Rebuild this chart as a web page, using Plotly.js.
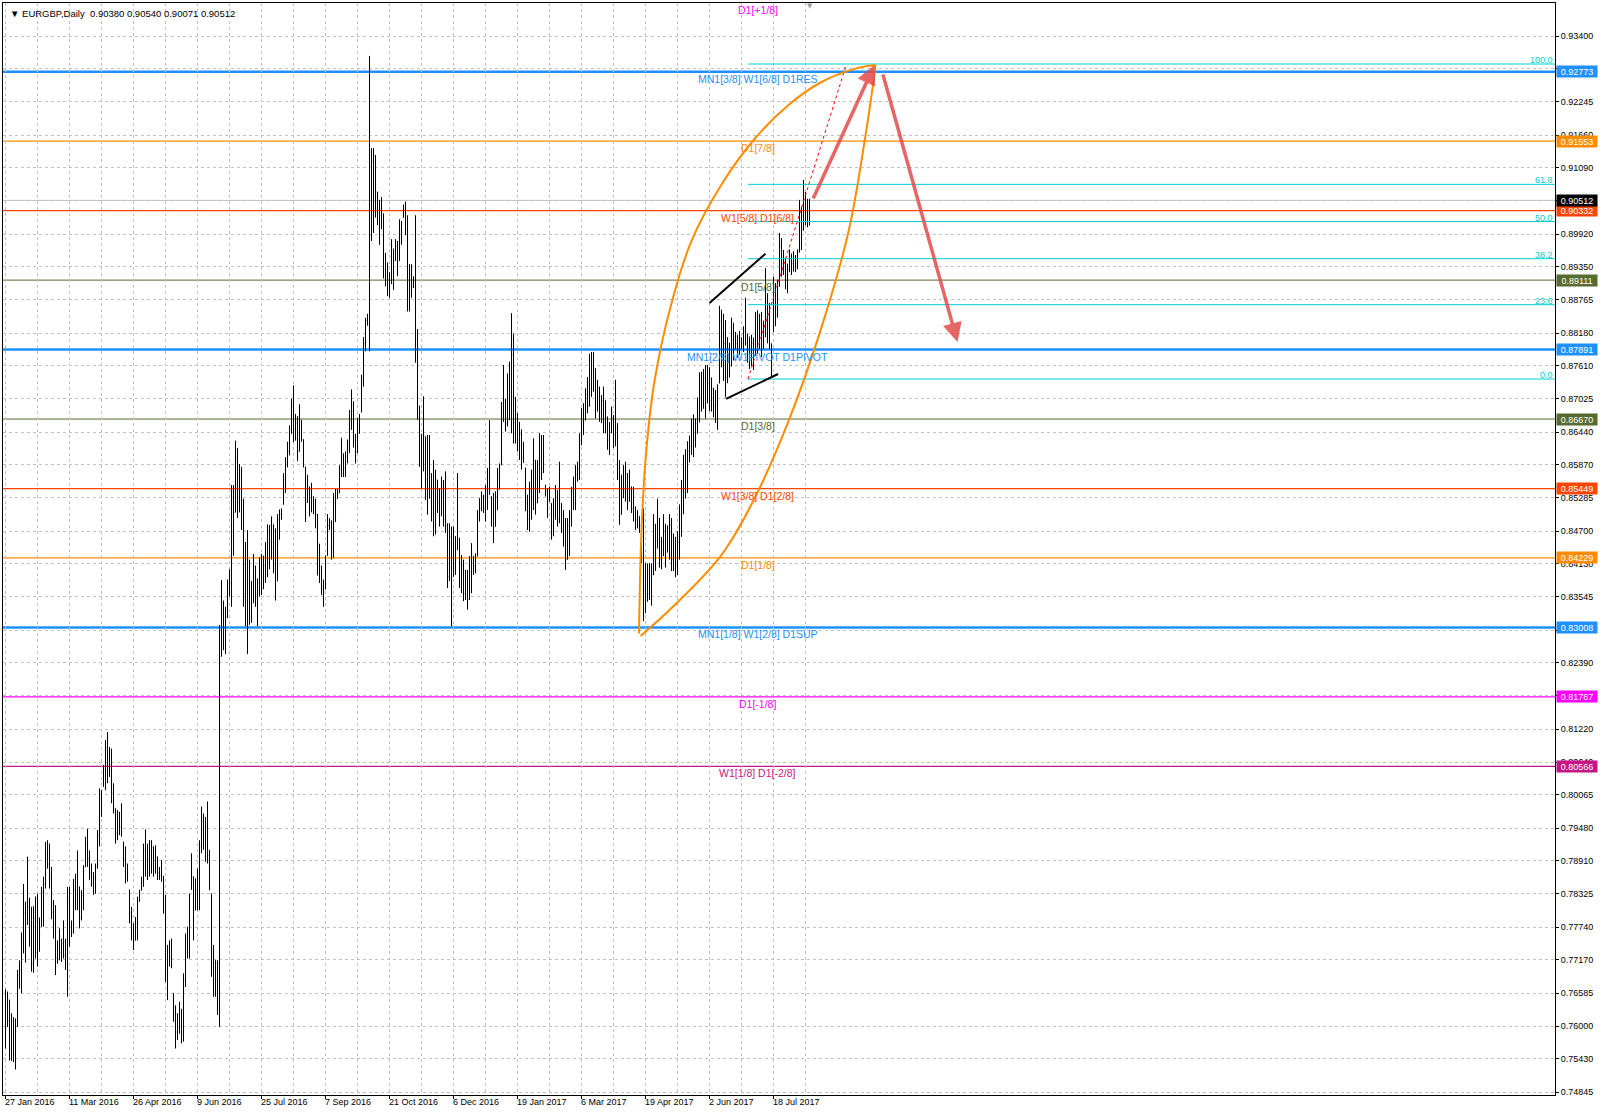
<!DOCTYPE html>
<html>
<head>
<meta charset="utf-8">
<script src="https://cdn.plot.ly/plotly-3.0.1.min.js"></script>
<style>
  html, body { margin: 0; padding: 0; background: #fff; }
  #chart { width: 1600px; height: 1118px; }
</style>
</head>
<body>
<div id="chart"></div>
<script>
// EURGBP daily bars, prices in pips (x10000), bar 0 = 27 Jan 2016
const barOpen = [
  7640,7600,7610,7560,7575,7550,7600,7690,7700,7755,
  7800,7780,7810,7750,7710,7790,7730,7790,7776,7835,
  7850,7900,7885,7860,7800,7780,7720,7740,7730,7745,
  7725,7710,7820,7770,7765,7840,7820,7845,7790,7830,
  7880,7920,7895,7870,7850,7860,7880,7935,8000,8021,
  8050,8090,8050,8070,8010,7983,7940,7960,7950,7924,
  7895,7860,7840,7800,7770,7751,7780,7820,7839,7855,
  7910,7880,7900,7880,7915,7875,7898,7870,7865,7864,
  7815,7700,7735,7720,7658,7620,7590,7610,7600,7590,
  7680,7750,7730,7840,7863,7804,7840,7820,7915,7960,
  7930,7950,7900,7833,7700,7716,7680,7640,8250,8330,
  8300,8320,8370,8380,8540,8503,8600,8520,8560,8490,
  8360,8420,8306,8382,8344,8409,8360,8380,8400,8370,
  8410,8440,8420,8470,8440,8410,8460,8490,8500,8517,
  8560,8590,8610,8650,8690,8650,8660,8610,8665,8631,
  8583,8520,8548,8510,8531,8510,8500,8410,8409,8370,
  8368,8427,8480,8485,8440,8520,8527,8537,8580,8600,
  8580,8600,8620,8670,8680,8630,8610,8650,8679,8730,
  8800,8840,8835,8990,9120,9050,9066,9020,9001,9028,
  8930,8920,8900,8910,8966,8945,8970,8945,9000,9021,
  9035,9000,8880,8920,8900,8910,8790,8690,8610,8580,
  8636,8560,8620,8550,8510,8480,8560,8520,8500,8550,
  8490,8480,8390,8460,8390,8460,8437,8458,8390,8410,
  8360,8390,8350,8410,8426,8410,8426,8500,8510,8530,
  8510,8540,8570,8531,8500,8478,8530,8570,8586,8680,
  8700,8660,8730,8690,8780,8660,8677,8630,8640,8600,
  8581,8520,8490,8540,8510,8595,8520,8580,8620,8580,
  8551,8540,8522,8519,8470,8510,8540,8490,8519,8500,
  8460,8420,8480,8500,8540,8520,8570,8580,8630,8670,
  8665,8710,8690,8770,8720,8756,8690,8720,8680,8700,
  8660,8671,8630,8650,8670,8640,8650,8580,8500,8550,
  8540,8570,8522,8548,8510,8513,8490,8496,8480,8460,
  8370,8390,8360,8400,8393,8480,8440,8493,8420,8450,
  8470,8433,8460,8480,8420,8440,8410,8450,8500,8540,
  8590,8560,8610,8620,8650,8630,8660,8690,8730,8700,
  8740,8695,8730,8700,8720,8690,8700,8730,8840,8780,
  8800,8740,8790,8760,8820,8790,8800,8790,8810,8800,
  8820,8800,8780,8770,8800,8780,8840,8800,8840,8810,
  8820,8860,8850,8790,8820,8900,8850,8900,8970,8940,
  8930,8910,8930,8950,8940,8950,8940,8960,9030,9000,
  9060,9030,9038
];
const barHigh = [
  7665,7661,7647,7623,7616,7614,7699,7716,7765,7850,
  7819,7898,7826,7810,7811,7828,7833,7791,7845,7863,
  7924,7927,7921,7880,7822,7813,7751,7772,7754,7786,
  7754,7845,7845,7786,7859,7868,7909,7845,7839,7883,
  7933,7947,7909,7886,7871,7886,7945,8018,8015,8059,
  8103,8117,8091,8088,8027,7983,7980,7977,7992,7924,
  7916,7886,7840,7810,7781,7792,7828,7840,7863,7921,
  7946,7921,7927,7927,7916,7918,7898,7880,7892,7864,
  7831,7743,7751,7754,7658,7637,7623,7643,7631,7693,
  7763,7775,7833,7904,7863,7860,7877,7927,7986,7974,
  7968,7995,7910,7833,7743,7716,7716,8305,8384,8348,
  8337,8385,8403,8551,8551,8629,8616,8588,8583,8527,
  8451,8472,8420,8382,8430,8409,8387,8424,8430,8427,
  8451,8482,8481,8496,8482,8475,8500,8508,8510,8572,
  8600,8627,8656,8703,8726,8676,8672,8693,8665,8631,
  8583,8569,8548,8555,8531,8527,8500,8448,8409,8385,
  8427,8500,8493,8489,8537,8544,8544,8586,8634,8607,
  8610,8631,8683,8719,8698,8641,8669,8676,8745,8811,
  8845,8852,9305,9143,9143,9131,9066,9052,9057,9028,
  8959,8942,8925,8983,8966,8983,8980,9018,9015,9044,
  9049,9025,8939,8939,8918,9025,8825,8690,8641,8707,
  8636,8639,8639,8572,8595,8578,8560,8545,8566,8560,
  8575,8484,8484,8478,8478,8461,8572,8458,8428,8420,
  8402,8402,8426,8449,8426,8431,8507,8528,8540,8534,
  8551,8581,8665,8531,8537,8540,8581,8589,8697,8762,
  8703,8747,8768,8853,8817,8706,8677,8662,8649,8627,
  8581,8534,8557,8578,8633,8595,8595,8642,8639,8639,
  8551,8545,8548,8519,8528,8551,8542,8592,8519,8507,
  8493,8493,8507,8548,8566,8586,8592,8642,8686,8695,
  8721,8741,8782,8785,8785,8756,8736,8724,8709,8724,
  8700,8671,8662,8689,8674,8736,8660,8595,8569,8586,
  8592,8572,8578,8548,8548,8513,8507,8496,8493,8510,
  8414,8413,8414,8413,8500,8483,8527,8493,8460,8500,
  8483,8480,8500,8493,8466,8460,8470,8517,8560,8604,
  8614,8628,8638,8668,8675,8668,8705,8749,8750,8755,
  8762,8762,8758,8740,8722,8718,8728,8866,8859,8852,
  8841,8811,8801,8845,8836,8820,8815,8822,8810,8830,
  8880,8817,8812,8815,8810,8855,8858,8852,8855,8840,
  8932,8888,8871,8800,8917,8906,8912,8994,8985,8964,
  8950,8940,8965,8958,8962,8955,8965,9052,9040,9087,
  9066,9054,9054
];
const barLow = [
  7561,7599,7540,7539,7537,7524,7599,7666,7658,7728,
  7712,7778,7740,7696,7694,7719,7705,7731,7775,7775,
  7842,7877,7842,7788,7754,7690,7710,7716,7713,7719,
  7699,7652,7740,7757,7763,7804,7804,7772,7786,7804,
  7880,7880,7857,7845,7831,7833,7877,7916,7968,8021,
  8015,8027,8038,7992,7974,7921,7927,7936,7933,7880,
  7851,7854,7781,7751,7734,7751,7751,7819,7839,7845,
  7863,7857,7863,7868,7863,7868,7857,7857,7854,7798,
  7678,7646,7705,7702,7608,7561,7576,7587,7570,7573,
  7669,7719,7719,7840,7751,7804,7804,7804,7904,7910,
  7889,7886,7839,7687,7652,7652,7620,7599,8250,8261,
  8254,8317,8355,8337,8427,8503,8493,8503,8472,8337,
  8303,8254,8306,8309,8344,8337,8303,8355,8358,8368,
  8379,8389,8403,8420,8396,8348,8382,8455,8490,8517,
  8537,8582,8603,8641,8627,8629,8593,8610,8627,8582,
  8486,8520,8496,8503,8500,8475,8392,8379,8358,8337,
  8368,8427,8472,8420,8423,8486,8527,8537,8565,8565,
  8565,8589,8607,8648,8617,8589,8607,8641,8679,8724,
  8786,8831,8786,8980,8994,9021,9008,8973,9001,8914,
  8900,8883,8880,8904,8894,8945,8918,8945,8973,9021,
  8990,8856,8856,8880,8897,8766,8666,8583,8545,8575,
  8525,8499,8527,8487,8461,8464,8502,8478,8496,8478,
  8467,8370,8382,8303,8390,8393,8437,8370,8361,8347,
  8349,8332,8349,8361,8393,8396,8426,8487,8505,8502,
  8487,8507,8534,8478,8449,8478,8507,8543,8586,8662,
  8645,8654,8665,8642,8624,8624,8610,8595,8578,8590,
  8505,8472,8469,8490,8507,8499,8519,8537,8560,8572,
  8531,8493,8522,8455,8461,8490,8478,8484,8467,8443,
  8402,8420,8426,8478,8507,8507,8557,8560,8621,8639,
  8665,8677,8689,8706,8715,8668,8680,8662,8660,8642,
  8642,8613,8604,8642,8616,8619,8560,8481,8499,8528,
  8522,8507,8522,8502,8487,8472,8475,8467,8414,8312,
  8326,8346,8349,8339,8393,8400,8440,8406,8403,8426,
  8406,8433,8420,8400,8400,8389,8393,8420,8460,8500,
  8527,8537,8591,8604,8600,8617,8641,8661,8680,8685,
  8668,8695,8681,8680,8670,8660,8648,8730,8758,8734,
  8705,8730,8740,8760,8770,8790,8775,8780,8790,8785,
  8796,8766,8755,8760,8753,8778,8782,8790,8776,8790,
  8811,8800,8790,8741,8820,8830,8845,8900,8917,8920,
  8895,8888,8925,8920,8926,8925,8930,8960,8964,8998,
  9008,9004,9007.1
];
const barClose = [
  7600,7610,7560,7575,7550,7590,7690,7700,7755,7800,
  7760,7810,7750,7710,7790,7730,7800,7760,7835,7850,
  7900,7885,7860,7800,7780,7720,7740,7730,7745,7725,
  7710,7820,7770,7765,7840,7820,7880,7790,7830,7875,
  7920,7895,7870,7850,7860,7880,7935,8000,8010,8050,
  8090,8050,8070,8010,7985,7940,7960,7950,7940,7895,
  7860,7870,7800,7770,7750,7780,7820,7835,7855,7910,
  7880,7900,7880,7915,7875,7900,7870,7865,7870,7815,
  7700,7735,7720,7710,7620,7590,7610,7600,7590,7680,
  7750,7730,7825,7880,7790,7840,7820,7915,7960,7930,
  7950,7900,7850,7700,7720,7680,7640,8150,8330,8300,
  8320,8370,8380,8540,8470,8600,8520,8560,8490,8360,
  8420,8300,8400,8330,8410,8360,8380,8400,8370,8410,
  8440,8420,8470,8440,8410,8460,8490,8500,8505,8560,
  8590,8610,8650,8690,8650,8660,8610,8680,8640,8590,
  8520,8550,8510,8540,8510,8500,8410,8430,8370,8360,
  8420,8480,8485,8440,8520,8500,8535,8580,8600,8580,
  8600,8620,8670,8680,8630,8610,8650,8670,8730,8800,
  8840,8835,8990,9120,9050,9080,9020,8990,9040,8930,
  8920,8900,8910,8970,8910,8970,8940,9000,9010,9035,
  9000,8880,8920,8900,8910,8790,8690,8610,8560,8640,
  8560,8620,8550,8510,8480,8560,8520,8500,8550,8490,
  8480,8390,8460,8340,8460,8420,8530,8390,8410,8360,
  8390,8350,8410,8430,8410,8425,8500,8510,8530,8510,
  8540,8570,8545,8500,8470,8530,8570,8585,8680,8700,
  8660,8730,8690,8780,8660,8680,8630,8640,8600,8610,
  8520,8490,8540,8510,8620,8520,8580,8620,8580,8600,
  8540,8510,8540,8470,8510,8540,8490,8530,8500,8460,
  8420,8480,8500,8540,8520,8570,8580,8630,8670,8660,
  8710,8690,8770,8720,8760,8690,8720,8680,8700,8660,
  8680,8630,8650,8670,8640,8650,8580,8500,8550,8540,
  8570,8520,8560,8510,8530,8490,8500,8480,8460,8370,
  8390,8360,8400,8350,8480,8420,8500,8420,8450,8470,
  8430,8460,8480,8420,8440,8410,8450,8500,8540,8590,
  8560,8610,8620,8650,8630,8660,8690,8730,8700,8740,
  8690,8730,8700,8720,8690,8700,8720,8840,8780,8800,
  8740,8790,8760,8820,8790,8800,8790,8810,8800,8820,
  8800,8780,8770,8800,8780,8840,8800,8840,8810,8820,
  8860,8850,8800,8790,8900,8850,8900,8970,8940,8930,
  8910,8930,8950,8940,8950,8940,8960,9030,9000,9060,
  9030,9038,9051.2
];

// time axis labels (every 32 bars)
const dateTickIdx = [0, 32, 64, 96, 128, 160, 192, 224, 256, 288, 320, 352, 384];
const dateTickText = ['27 Jan 2016', '11 Mar 2016', '26 Apr 2016', '9 Jun 2016', '25 Jul 2016',
  '7 Sep 2016', '21 Oct 2016', '6 Dec 2016', '19 Jan 2017', '6 Mar 2017', '19 Apr 2017',
  '2 Jun 2017', '18 Jul 2017'];

// price scale ticks
const priceTicks = [0.93400, 0.92830, 0.92245, 0.91660, 0.91090, 0.90505, 0.89920, 0.89350,
  0.88765, 0.88180, 0.87610, 0.87025, 0.86440, 0.85870, 0.85285, 0.84700, 0.84130, 0.83545,
  0.82960, 0.82390, 0.81805, 0.81220, 0.80640, 0.80065, 0.79480, 0.78910, 0.78325, 0.77740,
  0.77170, 0.76585, 0.76000, 0.75430, 0.74845];

// Murrey math levels
const levelPrice = [0.93994, 0.92773, 0.91553, 0.90332, 0.89111, 0.87891, 0.86670, 0.85449,
  0.84229, 0.83008, 0.81787, 0.80566];
const levelName = ['D1[+1/8]', 'MN1[3/8] W1[6/8] D1RES', 'D1[7/8]', 'W1[5/8] D1[6/8]', 'D1[5/8]',
  'MN1[2/8] W1PIVOT D1PIVOT', 'D1[3/8]', 'W1[3/8] D1[2/8]', 'D1[1/8]', 'MN1[1/8] W1[2/8] D1SUP',
  'D1[-1/8]', 'W1[1/8] D1[-2/8]'];

// fibonacci retracement (0.0 and 100.0 anchors)
const fibAnchorIdx = [371.25, 420.5];
const fibAnchorPrice = [0.87373, 0.92908];
const fibRatios = [0, 23.6, 38.2, 50, 61.8, 100];

// hand drawn objects
const arcLeftIdx = [316.75, 317.9, 320.0, 324.3, 332.5, 342.75, 357.85, 374.5, 391.5, 408.0, 425.0, 435.0];
const arcLeftPrice = [0.82901, 0.84614, 0.85950, 0.87294, 0.88638, 0.89780, 0.90782, 0.91590, 0.92188, 0.92592, 0.92827, 0.92890];
const arcRightIdx = [317.5, 332.65, 357.85, 374.6, 391.4, 408.15, 421.6, 430.0, 434.2, 435.0];
const arcRightPrice = [0.82857, 0.83337, 0.84275, 0.85282, 0.86623, 0.88299, 0.89977, 0.91653, 0.92659, 0.92890];
const channelUpperIdx = [352, 380];
const channelUpperPrice = [0.88708, 0.89575];
const channelLowerIdx = [360.3, 386.3];
const channelLowerPrice = [0.87025, 0.87461];
const arrowTailIdx = [403.5, 438.5];
const arrowTailPrice = [0.90518, 0.92750];
const arrowTipIdx = [434.5, 476];
const arrowTipPrice = [0.92890, 0.88023];

// ---- styles ----
const FONT = 'Liberation Sans, Arial, sans-serif';
const levelColor = ['#FF00FF', '#1E90FF', '#FF8C00', '#FF4500', '#556B2F', '#1E90FF', '#556B2F',
  '#FF4500', '#FF8C00', '#1E90FF', '#FF00FF', '#C71585'];
const levelWidth = [1, 2.5, 1.2, 1.2, 1, 2.5, 1, 1.2, 1.2, 2.5, 1.2, 1.2];
const fibColor = '#00CED1';
const gridColor = '#C0C0C0';
const X_RANGE = [-1.25, 774.75];
const Y_RANGE = [0.74793, 0.93980];

const PIP = 10000;
const toPrice = v => v / PIP;
const barIndex = barClose.map((_, i) => i);
const last = barClose.length - 1;

const traces = [];

traces.push({
  type: 'ohlc',
  x: barIndex,
  open: barOpen.map(toPrice),
  high: barHigh.map(toPrice),
  low: barLow.map(toPrice),
  close: barClose.map(toPrice),
  increasing: { line: { color: '#000000', width: 1 } },
  decreasing: { line: { color: '#000000', width: 1 } },
  tickwidth: 0.3,
  hoverinfo: 'skip',
  showlegend: false
});

// fibonacci levels
const fibLevels = fibRatios.map(r => fibAnchorPrice[0] + (fibAnchorPrice[1] - fibAnchorPrice[0]) * r / 100);
fibLevels.forEach(v => {
  traces.push({
    type: 'scatter', mode: 'lines',
    x: [fibAnchorIdx[0], X_RANGE[1]], y: [v, v],
    line: { color: fibColor, width: 1 },
    hoverinfo: 'skip', showlegend: false
  });
});

// fibonacci trend line (red dotted)
traces.push({
  type: 'scatter', mode: 'lines',
  x: fibAnchorIdx, y: fibAnchorPrice,
  line: { color: '#FF0000', width: 1, dash: 'dot' },
  hoverinfo: 'skip', showlegend: false
});

// orange arcs
[[arcLeftIdx, arcLeftPrice], [arcRightIdx, arcRightPrice]].forEach(([xs, ys]) => {
  traces.push({
    type: 'scatter', mode: 'lines',
    x: xs, y: ys,
    line: { color: '#FF8C00', width: 2, shape: 'spline', smoothing: 1 },
    hoverinfo: 'skip', showlegend: false
  });
});

// black channel lines
[[channelUpperIdx, channelUpperPrice], [channelLowerIdx, channelLowerPrice]].forEach(([xs, ys]) => {
  traces.push({
    type: 'scatter', mode: 'lines',
    x: xs, y: ys,
    line: { color: '#000000', width: 2 },
    hoverinfo: 'skip', showlegend: false
  });
});

// horizontal level lines
const shapes = [];
levelPrice.forEach((v, i) => {
  if (v > Y_RANGE[1] || v < Y_RANGE[0]) return;
  shapes.push({
    type: 'line', xref: 'paper', x0: 0, x1: 1, yref: 'y', y0: v, y1: v,
    line: { color: levelColor[i], width: levelWidth[i] }, layer: 'below'
  });
});
// current price line
const lastPrice = toPrice(barClose[last]);
shapes.push({
  type: 'line', xref: 'paper', x0: 0, x1: 1, yref: 'y', y0: lastPrice, y1: lastPrice,
  line: { color: '#C0C0C0', width: 1 }, layer: 'below'
});

const annotations = [];

// chart title
annotations.push({
  xref: 'paper', yref: 'paper', x: 0, y: 1, xanchor: 'left', yanchor: 'top',
  xshift: 5, yshift: -3, showarrow: false,
  text: '\u25BC EURGBP,Daily  ' + [barOpen[last], barHigh[last], barLow[last], barClose[last]]
    .map(v => toPrice(v).toFixed(5)).join(' '),
  font: { family: FONT, size: 9.5, color: '#000' }
});

// chart shift marker
annotations.push({
  xref: 'x', yref: 'paper', x: last, y: 1, xanchor: 'center', yanchor: 'top', yshift: 3,
  showarrow: false, text: '\u25BC', font: { family: 'DejaVu Sans', size: 7, color: '#A0A0A0' }
});

// level texts (a level above the scale keeps its text at the top edge)
levelPrice.forEach((v, i) => {
  annotations.push({
    xref: 'x', yref: 'y', x: 376, y: Math.min(v, Y_RANGE[1]), xanchor: 'center', yanchor: 'top',
    showarrow: false, text: levelName[i], borderpad: 0,
    font: { family: FONT, size: 10.5, color: levelColor[i] }
  });
});

// fib texts
fibLevels.forEach((v, i) => {
  annotations.push({
    xref: 'paper', yref: 'y', x: 1, y: v, xanchor: 'right', yanchor: 'bottom',
    xshift: -1, yshift: -2, showarrow: false, text: fibRatios[i].toFixed(1), borderpad: 0,
    font: { family: FONT, size: 9, color: fibColor }
  });
});

// price boxes on the scale
levelPrice.forEach((v, i) => {
  if (v > Y_RANGE[1] || v < Y_RANGE[0]) return;
  annotations.push({
    xref: 'paper', yref: 'y', x: 1, y: v, xanchor: 'left', yanchor: 'middle', xshift: 1,
    showarrow: false, text: v.toFixed(5), bgcolor: levelColor[i], borderpad: 0,
    width: 40, height: 11, font: { family: FONT, size: 9, color: '#FFFFFF' }
  });
});
annotations.push({
  xref: 'paper', yref: 'y', x: 1, y: lastPrice, xanchor: 'left', yanchor: 'middle', xshift: 1,
  showarrow: false, text: lastPrice.toFixed(5), bgcolor: '#000000', borderpad: 0,
  width: 40, height: 11, font: { family: FONT, size: 9, color: '#FFFFFF' }
});

// date labels
dateTickIdx.forEach((x, i) => {
  annotations.push({
    xref: 'x', yref: 'paper', x: x, y: 0, xanchor: 'left', yanchor: 'top', xshift: -2, yshift: -1,
    showarrow: false, text: dateTickText[i], borderpad: 0,
    font: { family: FONT, size: 9, color: '#000' }
  });
});

// red forecast arrows
arrowTipIdx.forEach((x, i) => {
  annotations.push({
    xref: 'x', yref: 'y', x: x, y: arrowTipPrice[i],
    axref: 'x', ayref: 'y', ax: arrowTailIdx[i], ay: arrowTailPrice[i],
    showarrow: true, text: '', arrowhead: 2, arrowsize: 1.1, arrowwidth: 3.5,
    arrowcolor: 'rgba(226,76,76,0.85)', standoff: 0, startstandoff: 0
  });
});

// grid every 16 bars, labels every 32
const gridMidIdx = dateTickIdx.map(v => v + 16);

const layout = {
  width: 1600, height: 1118,
  margin: { l: 3, r: 45, t: 3, b: 23, pad: 0 },
  paper_bgcolor: '#FFFFFF', plot_bgcolor: '#FFFFFF',
  showlegend: false,
  font: { family: FONT, size: 9, color: '#000' },
  xaxis: {
    range: X_RANGE, fixedrange: true,
    tickmode: 'array', tickvals: dateTickIdx, showticklabels: false,
    ticks: 'outside', ticklen: 3, tickcolor: '#000',
    showgrid: true, gridcolor: gridColor, griddash: '3px,3px', gridwidth: 1,
    minor: { tickmode: 'array', tickvals: gridMidIdx, showgrid: true, gridcolor: gridColor, griddash: '3px,3px', ticks: '' },
    showline: true, linecolor: '#000', linewidth: 1, mirror: true,
    zeroline: false,
    rangeslider: { visible: false }
  },
  yaxis: {
    side: 'right', range: Y_RANGE, fixedrange: true,
    tickmode: 'array', tickvals: priceTicks, ticktext: priceTicks.map(v => v.toFixed(5)),
    ticks: 'outside', ticklen: 3, tickcolor: '#000',
    tickfont: { family: FONT, size: 9, color: '#000' },
    showgrid: true, gridcolor: gridColor, griddash: '3px,3px', gridwidth: 1,
    showline: true, linecolor: '#000', linewidth: 1, mirror: true,
    zeroline: false
  },
  shapes: shapes,
  annotations: annotations
};

Plotly.newPlot('chart', traces, layout, { displayModeBar: false, staticPlot: true });
</script>
</body>
</html>
